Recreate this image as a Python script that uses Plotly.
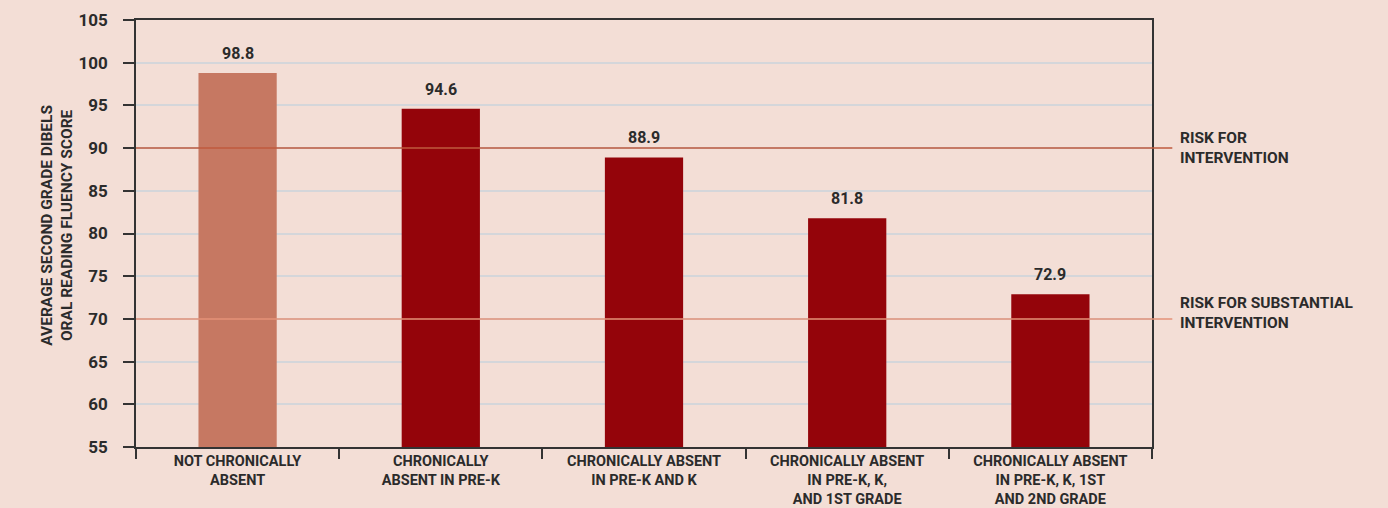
import plotly.graph_objects as go

categories = [
    "NOT CHRONICALLY<br>ABSENT",
    "CHRONICALLY<br>ABSENT IN PRE-K",
    "CHRONICALLY ABSENT<br>IN PRE-K AND K",
    "CHRONICALLY ABSENT<br>IN PRE-K, K,<br>AND 1ST GRADE",
    "CHRONICALLY ABSENT<br>IN PRE-K, K, 1ST<br>AND 2ND GRADE",
]
values = [98.8, 94.6, 88.9, 81.8, 72.9]
bar_colors = ["#c67862", "#94040a", "#94040a", "#94040a", "#94040a"]
y_ticks = [55, 60, 65, 70, 75, 80, 85, 90, 95, 100, 105]
thresholds = [90, 70]
threshold_labels = ["RISK FOR<br>INTERVENTION", "RISK FOR SUBSTANTIAL<br>INTERVENTION"]
threshold_colors = ["#bf5a3e", "#e59278"]
threshold_shift = [0, 6]

FONT = "Roboto"
TXT = "#2b2b2b"
BG = "#f3ded6"

fig = go.Figure()
fig.add_trace(go.Bar(
    x=categories, y=values, marker=dict(color=bar_colors, line=dict(width=0)),
    width=0.385, hoverinfo="skip",
))

for c, v in zip(categories, values):
    fig.add_annotation(x=c, y=v, text=f"{v:.1f}", showarrow=False, yanchor="bottom",
                       yshift=8, font=dict(family=FONT, size=16, color=TXT, weight="bold"))

for t, lab, col, sh in zip(thresholds, threshold_labels, threshold_colors, threshold_shift):
    fig.add_shape(type="line", xref="paper", yref="y", x0=0, x1=1.02, y0=t, y1=t,
                  line=dict(color=col, width=1.5), layer="above")
    fig.add_annotation(xref="paper", yref="y", x=1.026, y=t, text=lab, showarrow=False,
                       xanchor="left", yanchor="middle", align="left", yshift=sh,
                       font=dict(family=FONT, size=15.5, color=TXT, weight="bold"))

fig.add_annotation(xref="paper", yref="paper", x=-0.078, y=0.52,
                   text="AVERAGE SECOND GRADE DIBELS<br>ORAL READING FLUENCY SCORE",
                   textangle=-90, showarrow=False, xanchor="center", yanchor="middle",
                   font=dict(family=FONT, size=15.5, color=TXT, weight="bold"))

fig.update_layout(
    width=1388, height=508,
    margin=dict(l=136, r=236, t=20, b=61, autoexpand=False),
    paper_bgcolor=BG, plot_bgcolor=BG,
    showlegend=False,
)
fig.update_xaxes(
    type="category", showline=True, linecolor="#333333", linewidth=1.5, mirror=True,
    ticks="outside", tickson="boundaries", ticklen=10, tickcolor="#333333", tickwidth=1.5,
    tickfont=dict(family=FONT, size=14.5, color=TXT, weight="bold"), showgrid=False,
    automargin=False,
)
fig.update_yaxes(
    range=[55, 105], tickvals=y_ticks, showline=True, linecolor="#333333", linewidth=1.5,
    mirror=True, ticks="outside", ticklen=11, tickcolor="#333333", tickwidth=1.5,
    ticklabelstandoff=12, automargin=False,
    tickfont=dict(family=FONT, size=17, color=TXT, weight="bold"),
    showgrid=True, gridcolor="#d4d6da", gridwidth=1.5, zeroline=False,
)

fig.write_html("out.html", config={"displayModeBar": False})
with open("out.html", "r", encoding="utf-8") as f:
    html = f.read()
html = html.replace("<head>", "<head><style>html,body{margin:0;padding:0;overflow:hidden;background:#f3ded6;}</style>", 1)
with open("out.html", "w", encoding="utf-8") as f:
    f.write(html)
